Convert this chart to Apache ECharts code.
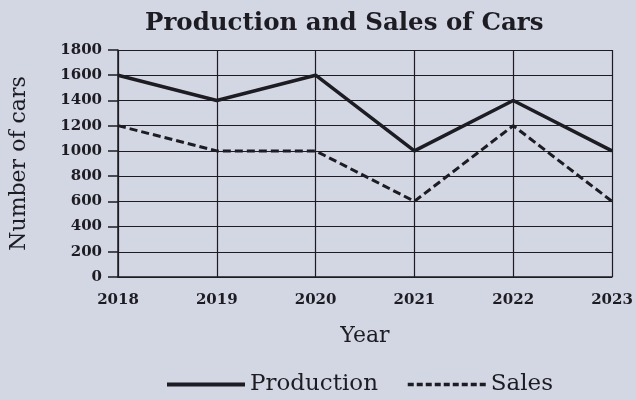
<!DOCTYPE html>
<html><head><meta charset="utf-8">
<script src="https://cdn.jsdelivr.net/npm/echarts@6/dist/echarts.min.js"></script>
<style>html,body{margin:0;padding:0;background:#d3d6e3;}#c{width:636px;height:400px;}</style>
</head><body><div id="c"></div>
<script>
const years = ['2018','2019','2020','2021','2022','2023'];
const production = [1600, 1400, 1600, 1000, 1400, 1000];
const sales = [1200, 1000, 1000, 600, 1200, 600];
const yTicks = [0,200,400,600,800,1000,1200,1400,1600,1800];

const F = '"DejaVu Serif", serif';
const ink = '#1c1c22';
const chart = echarts.init(document.getElementById('c'));
chart.setOption({
  backgroundColor: '#d3d6e3',
  animation: false,
  title: {text: 'Production and Sales of Cars', left: 140, top: 6,
    textStyle: {fontFamily: F, fontWeight: 'bold', fontSize: 24.5, color: ink}},
  legend: {left: 160, top: 368, itemWidth: 78, itemHeight: 14, itemGap: 28,
    itemStyle: {color: 'transparent', borderWidth: 0},
    textStyle: {fontFamily: F, fontSize: 23, color: ink},
    data: [
      {name: 'Production', lineStyle: {width: 4, color: ink, type: 'solid'}},
      {name: 'Sales', lineStyle: {width: 3.5, color: ink, type: [6, 3]}}
    ]},
  grid: {left: 118, right: 24, top: 50, bottom: 123},
  xAxis: {type: 'category', data: years, boundaryGap: false,
    name: 'Year', nameLocation: 'middle', nameGap: 48,
    nameTextStyle: {fontFamily: F, fontSize: 22, color: ink},
    axisLine: {lineStyle: {color: ink, width: 1.5}},
    axisTick: {show: false},
    axisLabel: {fontFamily: F, fontSize: 15, fontWeight: 'bold', color: ink, margin: 16},
    splitLine: {show: true, lineStyle: {color: ink, width: 1.2}}},
  yAxis: {type: 'value', min: 0, max: 1800, interval: 200,
    name: 'Number of cars', nameLocation: 'middle', nameGap: 88,
    nameTextStyle: {fontFamily: F, fontSize: 22, color: ink},
    axisLine: {show: true, lineStyle: {color: ink, width: 1.5}},
    axisTick: {show: true, length: 10, lineStyle: {color: ink, width: 1.5}},
    axisLabel: {fontFamily: F, fontSize: 15, fontWeight: 'bold', color: ink, margin: 16,
      formatter: v => yTicks.includes(v) ? String(v) : ''},
    splitLine: {show: true, lineStyle: {color: ink, width: 1.2}}},
  series: [
    {name: 'Production', type: 'line', data: production, symbol: 'none',
      lineStyle: {color: ink, width: 3.5, type: 'solid'}, itemStyle: {color: ink}},
    {name: 'Sales', type: 'line', data: sales, symbol: 'none',
      lineStyle: {color: ink, width: 3, type: [8, 4]}, itemStyle: {color: ink}}
  ]
});
</script></body></html>
